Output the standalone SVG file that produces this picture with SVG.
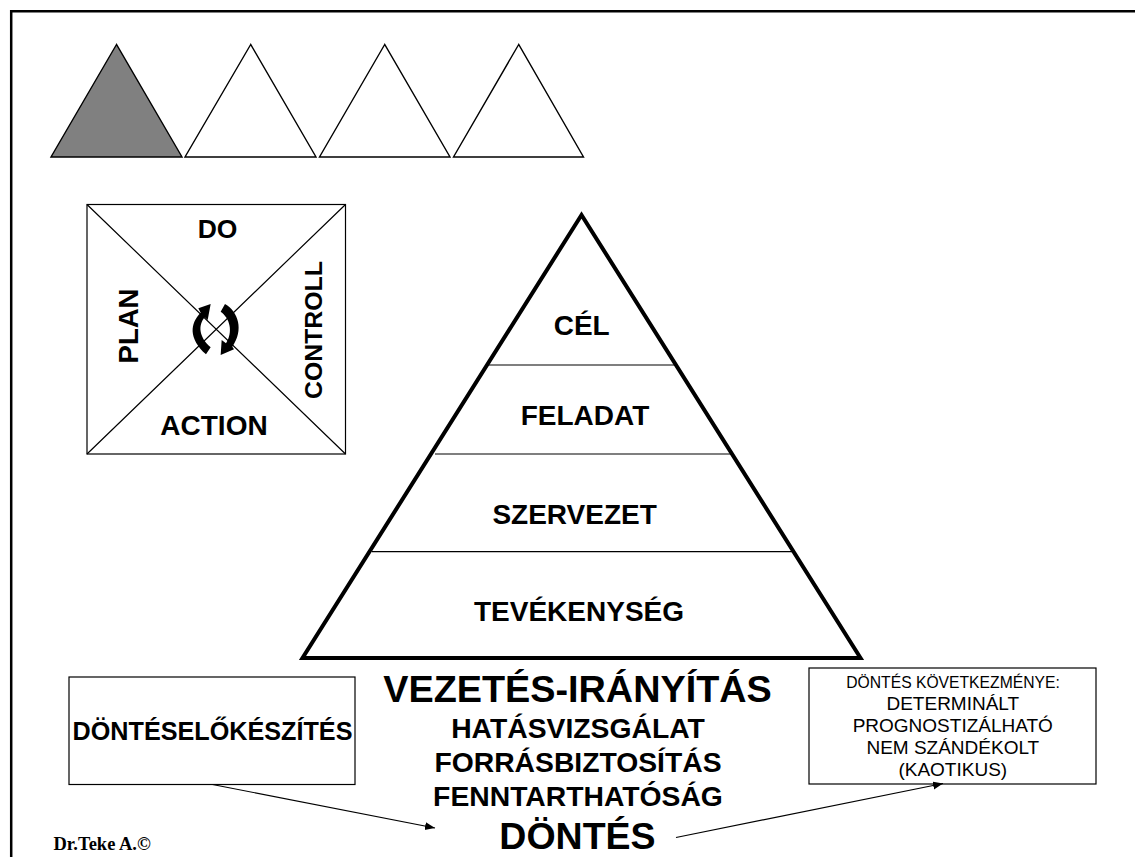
<svg xmlns="http://www.w3.org/2000/svg" width="1135" height="857" viewBox="0 0 1135 857">
<style>
text{font-family:"Liberation Sans",Arial,sans-serif;font-weight:700;fill:#000;text-anchor:middle}
.thin{fill:none;stroke:#000;stroke-width:1.2}
.tri{stroke:#000;stroke-width:1.4;fill:#fff}
.box{fill:#fff;stroke:#000;stroke-width:1.2}
.reg{font-weight:400}
</style>
<defs>
<marker id="arr" markerUnits="userSpaceOnUse" markerWidth="12" markerHeight="10" refX="10" refY="4" orient="auto"><path d="M0 0L10 4L0 8Z" fill="#000"/></marker>
</defs>
<rect width="1135" height="857" fill="#fff"/>
<path id="frame" d="M11.200 857V11.200H1135" fill="none" stroke="#000" stroke-width="2.500"/>
<g id="triangles">
<polygon class="tri" style="fill:#808080" points="116.500,44.500 51,157 182,157"/>
<polygon class="tri" points="250.700,44.500 185,157 316,157"/>
<polygon class="tri" points="384.700,44.500 319.500,157 450,157"/>
<polygon class="tri" points="518.700,44.500 453.500,157 583.500,157"/>
</g>
<g id="pdca">
<rect class="box" x="87" y="204.500" width="258.500" height="249.500"/>
<path class="thin" d="M87 204.500L345.500 454M345.500 204.500L87 454"/>
<path transform="translate(170 290) scale(.3333)" d="M122 42L85 55L92 68C60 100 55 145 108 193L122 172C85 140 85 105 104 82L113 90Z" fill="#000"/>
<path transform="translate(170 290) scale(.3333)" d="M165 42C205 65 222 120 187 170L192 178L152 195L155 150L168 160C190 125 180 85 152 65Z" fill="#000"/>
<text x="217.500" y="237.500" font-size="26.500">DO</text>
<text x="214" y="435" font-size="28">ACTION</text>
<text transform="translate(138 326) rotate(-90)" font-size="27.500">PLAN</text>
<text transform="translate(322 330) rotate(-90)" font-size="24.800">CONTROLL</text>
</g>
<g id="pyramid">
<polygon points="581.500,215 302.500,658 860.500,658" fill="#fff" stroke="#000" stroke-width="4"/>
<path class="thin" d="M487 365H676M435 454H731M372 551.700H794"/>
<text x="581.700" y="335" font-size="28">CÉL</text>
<text x="585" y="425" font-size="28">FELADAT</text>
<text x="574.600" y="524" font-size="28">SZERVEZET</text>
<text x="579" y="621" font-size="28">TEVÉKENYSÉG</text>
</g>
<g id="center-text">
<text x="577.500" y="702" font-size="37.800">VEZETÉS-IRÁNYÍTÁS</text>
<text x="578" y="738" font-size="28.300">HATÁSVIZSGÁLAT</text>
<text x="578" y="771.500" font-size="28.300">FORRÁSBIZTOSÍTÁS</text>
<text x="578" y="805.500" font-size="28.300">FENNTARTHATÓSÁG</text>
<text x="577.500" y="849" font-size="37.500">DÖNTÉS</text>
</g>
<g id="preparation">
<rect class="box" x="69" y="677" width="286" height="107.500"/>
<text x="212.500" y="739.500" font-size="25.200">DÖNTÉSELŐKÉSZÍTÉS</text>
</g>
<g id="consequence">
<rect class="box" x="809" y="668" width="287" height="116"/>
<text class="reg" x="953" y="688.300" font-size="15.700">DÖNTÉS KÖVETKEZMÉNYE:</text>
<text class="reg" x="952.800" y="709.500" font-size="19">DETERMINÁLT</text>
<text class="reg" x="952.800" y="731.700" font-size="19">PROGNOSTIZÁLHATÓ</text>
<text class="reg" x="952.800" y="754" font-size="19">NEM SZÁNDÉKOLT</text>
<text class="reg" x="952.800" y="776" font-size="19">(KAOTIKUS)</text>
</g>
<g id="connectors">
<line class="thin" x1="212.500" y1="784.500" x2="435" y2="828" marker-end="url(#arr)"/>
<line class="thin" x1="676" y1="837.500" x2="943" y2="783.500" marker-end="url(#arr)"/>
</g>
<text id="credit" x="53.500" y="850" font-size="18.500" style="font-family:'Liberation Serif',serif;text-anchor:start">Dr.Teke A.©</text>
</svg>
